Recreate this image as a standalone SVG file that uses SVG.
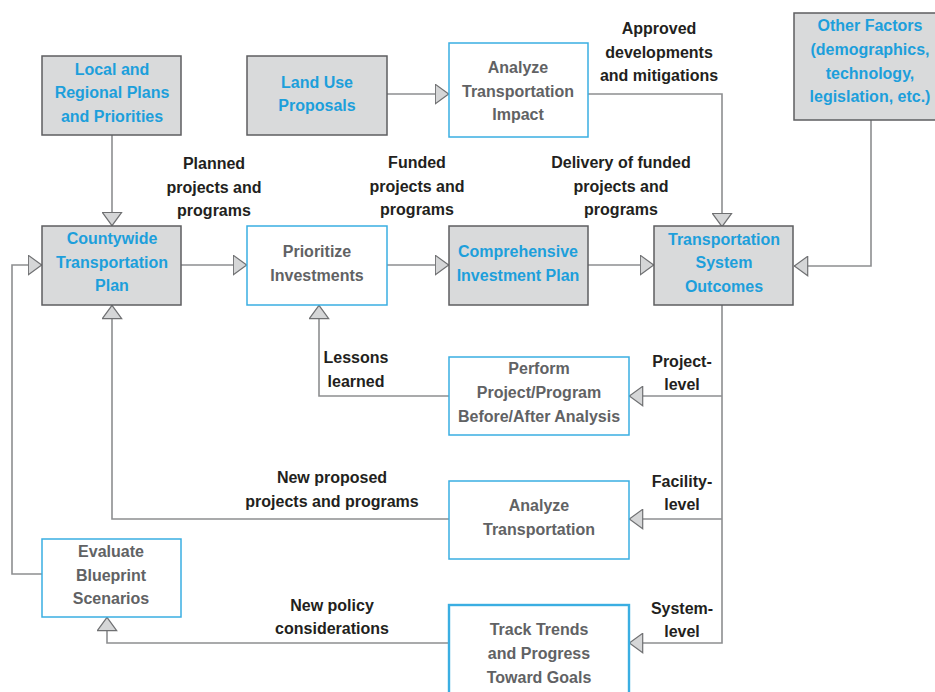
<svg xmlns="http://www.w3.org/2000/svg" width="935" height="692" viewBox="0 0 935 692">
<style>
text{font-family:"Liberation Sans",Arial,sans-serif;font-size:16px;font-weight:bold;text-anchor:middle}
.gbox{fill:#d9dadb;stroke:#5d5e60;stroke-width:1.5}
.wbox{fill:#ffffff;stroke:#3aaee2;stroke-width:1.5}
.bt{fill:#1d9fdb}
.gt{fill:#616264}
.lt{fill:#231f20}
.conn{fill:none;stroke:#8d8e90;stroke-width:1.6}
</style>
<defs>
<marker id="ah" viewBox="0 0 15 21" refX="14.5" refY="10.5" markerWidth="15" markerHeight="21" markerUnits="userSpaceOnUse" orient="auto">
<path d="M0.8,0.8 L14.2,10.5 L0.8,20.2 Z" fill="#d5d6d7" stroke="#6f7072" stroke-width="1.2"/>
</marker>
</defs>
<rect width="935" height="692" fill="#ffffff"/>
<g id="connectors">
<path class="conn" d="M112,135 V226" marker-end="url(#ah)"/>
<path class="conn" d="M387,94 H449" marker-end="url(#ah)"/>
<path class="conn" d="M588,94 H722 V227" marker-end="url(#ah)"/>
<path class="conn" d="M181,265 H247" marker-end="url(#ah)"/>
<path class="conn" d="M387,265 H449" marker-end="url(#ah)"/>
<path class="conn" d="M588,265 H654" marker-end="url(#ah)"/>
<path class="conn" d="M871,120 V266 H794" marker-end="url(#ah)"/>
<path class="conn" d="M722,305 V643 H629" marker-end="url(#ah)"/>
<path class="conn" d="M722,396 H629" marker-end="url(#ah)"/>
<path class="conn" d="M722,519 H629" marker-end="url(#ah)"/>
<path class="conn" d="M449,396 H319 V305" marker-end="url(#ah)"/>
<path class="conn" d="M449,519 H112 V305" marker-end="url(#ah)"/>
<path class="conn" d="M449,643 H107 V617" marker-end="url(#ah)"/>
<path class="conn" d="M42,574 H12 V265 H42" marker-end="url(#ah)"/>
</g>
<g id="labels">
<text class="lt" x="214" y="169">Planned</text>
<text class="lt" x="214" y="193">projects and</text>
<text class="lt" x="214" y="216">programs</text>
<text class="lt" x="417" y="168">Funded</text>
<text class="lt" x="417" y="192">projects and</text>
<text class="lt" x="417" y="215">programs</text>
<text class="lt" x="659" y="34">Approved</text>
<text class="lt" x="659" y="58">developments</text>
<text class="lt" x="659" y="81">and mitigations</text>
<text class="lt" x="621" y="168">Delivery of funded</text>
<text class="lt" x="621" y="192">projects and</text>
<text class="lt" x="621" y="215">programs</text>
<text class="lt" x="682" y="367">Project-</text>
<text class="lt" x="682" y="390">level</text>
<text class="lt" x="682" y="487">Facility-</text>
<text class="lt" x="682" y="510">level</text>
<text class="lt" x="682" y="614">System-</text>
<text class="lt" x="682" y="637">level</text>
<text class="lt" x="356" y="363">Lessons</text>
<text class="lt" x="356" y="387">learned</text>
<text class="lt" x="332" y="483">New proposed</text>
<text class="lt" x="332" y="507">projects and programs</text>
<text class="lt" x="332" y="611">New policy</text>
<text class="lt" x="332" y="634">considerations</text>
</g>
<g id="local-regional">
<rect class="gbox" x="42" y="56" width="139" height="79"/>
<text class="bt" x="112" y="75">Local and</text>
<text class="bt" x="112" y="98">Regional Plans</text>
<text class="bt" x="112" y="122">and Priorities</text>
</g>
<g id="land-use">
<rect class="gbox" x="247" y="56" width="140" height="79"/>
<text class="bt" x="317" y="88">Land Use</text>
<text class="bt" x="317" y="111">Proposals</text>
</g>
<g id="analyze-impact">
<rect class="wbox" x="449" y="43" width="139" height="94"/>
<text class="gt" x="518" y="73">Analyze</text>
<text class="gt" x="518" y="97">Transportation</text>
<text class="gt" x="518" y="120">Impact</text>
</g>
<g id="other-factors">
<rect class="gbox" x="794" y="13" width="145" height="107"/>
<text class="bt" x="870" y="31">Other Factors</text>
<text class="bt" x="870" y="55">(demographics,</text>
<text class="bt" x="870" y="79">technology,</text>
<text class="bt" x="870" y="102">legislation, etc.)</text>
</g>
<g id="countywide">
<rect class="gbox" x="42" y="226" width="139" height="79"/>
<text class="bt" x="112" y="244">Countywide</text>
<text class="bt" x="112" y="268">Transportation</text>
<text class="bt" x="112" y="291">Plan</text>
</g>
<g id="prioritize">
<rect class="wbox" x="247" y="226" width="140" height="79"/>
<text class="gt" x="317" y="257">Prioritize</text>
<text class="gt" x="317" y="281">Investments</text>
</g>
<g id="comprehensive">
<rect class="gbox" x="449" y="226" width="139" height="79"/>
<text class="bt" x="518" y="257">Comprehensive</text>
<text class="bt" x="518" y="281">Investment Plan</text>
</g>
<g id="outcomes">
<rect class="gbox" x="654" y="226" width="139" height="79"/>
<text class="bt" x="724" y="245">Transportation</text>
<text class="bt" x="724" y="268">System</text>
<text class="bt" x="724" y="292">Outcomes</text>
</g>
<g id="perform">
<rect class="wbox" x="449" y="357" width="180" height="78"/>
<text class="gt" x="539" y="374">Perform</text>
<text class="gt" x="539" y="398">Project/Program</text>
<text class="gt" x="539" y="422">Before/After Analysis</text>
</g>
<g id="analyze-transportation">
<rect class="wbox" x="449" y="481" width="180" height="78"/>
<text class="gt" x="539" y="511">Analyze</text>
<text class="gt" x="539" y="535">Transportation</text>
</g>
<g id="track-trends">
<rect class="wbox" x="449" y="605" width="180" height="100" style="stroke-width:2.4"/>
<text class="gt" x="539" y="635">Track Trends</text>
<text class="gt" x="539" y="659">and Progress</text>
<text class="gt" x="539" y="683">Toward Goals</text>
</g>
<g id="evaluate">
<rect class="wbox" x="42" y="539" width="139" height="78"/>
<text class="gt" x="111" y="557">Evaluate</text>
<text class="gt" x="111" y="581">Blueprint</text>
<text class="gt" x="111" y="604">Scenarios</text>
</g>
</svg>
